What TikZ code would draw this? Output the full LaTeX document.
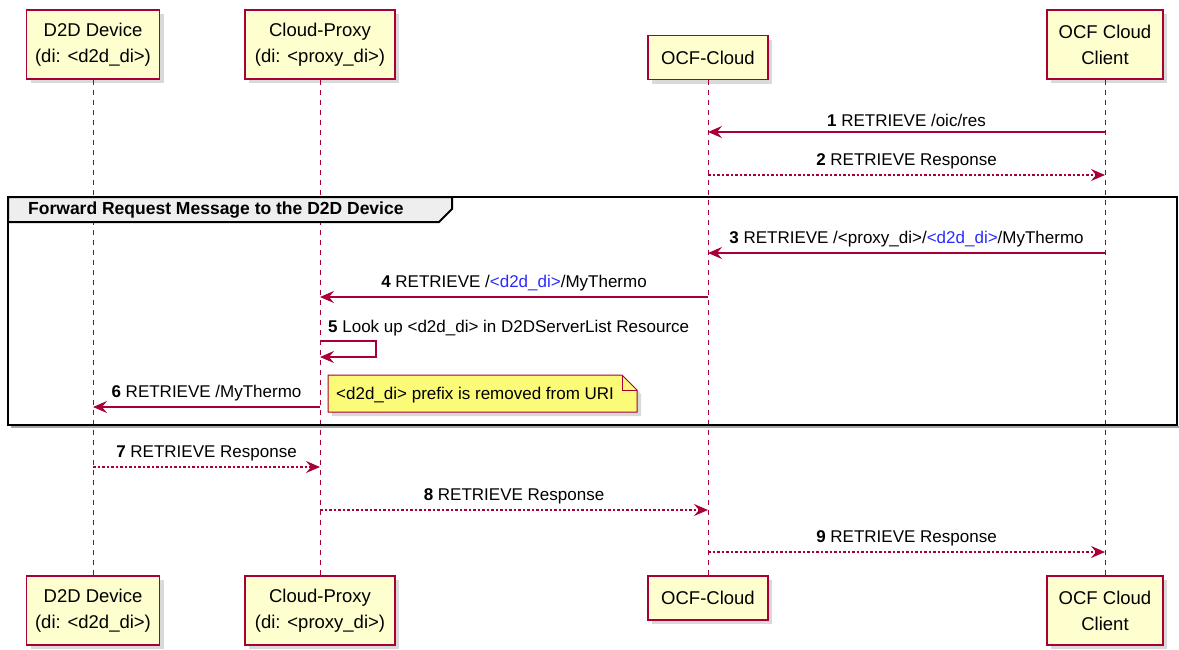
\documentclass[tikz,border=0pt]{standalone}
\usepackage{fontspec}
\setmainfont{Liberation Sans}
\usetikzlibrary{arrows.meta,shadows}
\definecolor{umlred}{HTML}{A80036}
\definecolor{umlbox}{HTML}{FEFECE}
\definecolor{umlnote}{HTML}{FBFB77}
\definecolor{umlgroup}{HTML}{EEEEEE}
\definecolor{umlblue}{HTML}{2A2AFF}
\begin{document}
\begin{tikzpicture}[x=1pt,y=-1pt]
\tikzstyle{part}=[draw=umlred, fill=umlbox, line width=1.3pt, align=center, inner sep=0pt,
  font=\fontsize{18.5}{26}\selectfont,
  drop shadow={shadow xshift=4pt, shadow yshift=-4pt, opacity=0.3}]
\tikzstyle{life}=[draw=umlred, line width=1pt, dash pattern=on 5pt off 5pt]
\tikzstyle{msg}=[draw=umlred, line width=1.3pt, -{Stealth[length=14pt, width=12pt, inset=5pt]}]
\tikzstyle{reply}=[msg, dash pattern=on 2.5pt off 2pt]
\tikzstyle{lbl}=[font=\fontsize{17}{20}\selectfont, inner sep=0pt, anchor=south]
\useasboundingbox (0,0) rectangle (1179,649);
% participants
\node[part, minimum width=133pt, minimum height=69pt](d2dT) at (93,44.5) {D2D Device\\(di: <d2d\_di>)};
\node[part, minimum width=150pt, minimum height=69pt](proxyT) at (320,44.5) {Cloud-Proxy\\(di: <proxy\_di>)};
\node[part, minimum width=120pt, minimum height=44pt](cloudT) at (708,57.5) {OCF-Cloud};
\node[part, minimum width=116pt, minimum height=69pt](clientT) at (1105,44.5) {OCF Cloud\\Client};
\node[part, minimum width=133pt, minimum height=69pt](d2dB) at (93,610.5) {D2D Device\\(di: <d2d\_di>)};
\node[part, minimum width=150pt, minimum height=69pt](proxyB) at (320,610.5) {Cloud-Proxy\\(di: <proxy\_di>)};
\node[part, minimum width=120pt, minimum height=44pt](cloudB) at (708,598) {OCF-Cloud};
\node[part, minimum width=116pt, minimum height=69pt](clientB) at (1105,610.5) {OCF Cloud\\Client};
\draw[life] (d2dT) -- (d2dB);
\draw[life] (proxyT) -- (proxyB);
\draw[life] (cloudT) -- (cloudB);
\draw[life] (clientT) -- (clientB);
% group frame
\draw[black!35, line width=2pt] (11,427) -- (1179,427);
\draw[line width=2pt, fill=umlgroup] (8,197) -- (452,197) -- (452,209) -- (439,222) -- (8,222) -- cycle;
\node[font=\bfseries\fontsize{17.5}{20}\selectfont, anchor=west, inner sep=0pt](grp) at (28,210) {Forward Request Message to the D2D Device};
\draw[line width=2pt] (8,197) rectangle (1177,425);
% message rows
\coordinate (y1) at (0,132);
\coordinate (y2) at (0,175);
\coordinate (y3) at (0,253);
\coordinate (y4) at (0,297);
\coordinate (y5) at (0,341);
\coordinate (y5b) at (0,357);
\coordinate (y6) at (0,407);
\coordinate (y7) at (0,467);
\coordinate (y8) at (0,510);
\coordinate (y9) at (0,552);
\draw[msg] (clientT |- y1) -- node[lbl, yshift=5pt]{\textbf{1} RETRIEVE /oic/res} (cloudT |- y1);
\draw[reply] (cloudT |- y2) -- node[lbl, yshift=5pt]{\textbf{2} RETRIEVE Response} (clientT |- y2);
\draw[msg] (clientT |- y3) -- node[lbl, yshift=5pt]{\textbf{3} RETRIEVE /<proxy\_di>/\textcolor{umlblue}{<d2d\_di>}/MyThermo} (cloudT |- y3);
\draw[msg] (cloudT |- y4) -- node[lbl, yshift=5pt]{\textbf{4} RETRIEVE /\textcolor{umlblue}{<d2d\_di>}/MyThermo} (proxyT |- y4);
\draw[msg] (proxyT |- y5) -- ++(56,0) -- ++(0,16) -- (proxyT |- y5b);
\node[lbl, anchor=south west](m5) at ([xshift=8pt, yshift=5pt]proxyT |- y5) {\textbf{5} Look up <d2d\_di> in D2DServerList Resource};
\draw[msg] (proxyT |- y6) -- node[lbl, yshift=5pt]{\textbf{6} RETRIEVE /MyThermo} (d2dT |- y6);
% note
\draw[draw=umlred, fill=umlnote, line width=1pt, drop shadow={shadow xshift=4pt, shadow yshift=-4pt, opacity=0.3}]
  (328,375) -- (622,375) -- (637,390) -- (637,412) -- (328,412) -- cycle;
\draw[draw=umlred, line width=1pt] (622,375) -- (622,390) -- (637,390);
\node[font=\fontsize{17}{20}\selectfont, anchor=west, inner sep=0pt](note) at (336,395) {<d2d\_di> prefix is removed from URI};
\draw[reply] (d2dT |- y7) -- node[lbl, yshift=5pt]{\textbf{7} RETRIEVE Response} (proxyT |- y7);
\draw[reply] (proxyT |- y8) -- node[lbl, yshift=5pt]{\textbf{8} RETRIEVE Response} (cloudT |- y8);
\draw[reply] (cloudT |- y9) -- node[lbl, yshift=5pt]{\textbf{9} RETRIEVE Response} (clientT |- y9);
\end{tikzpicture}
\end{document}
